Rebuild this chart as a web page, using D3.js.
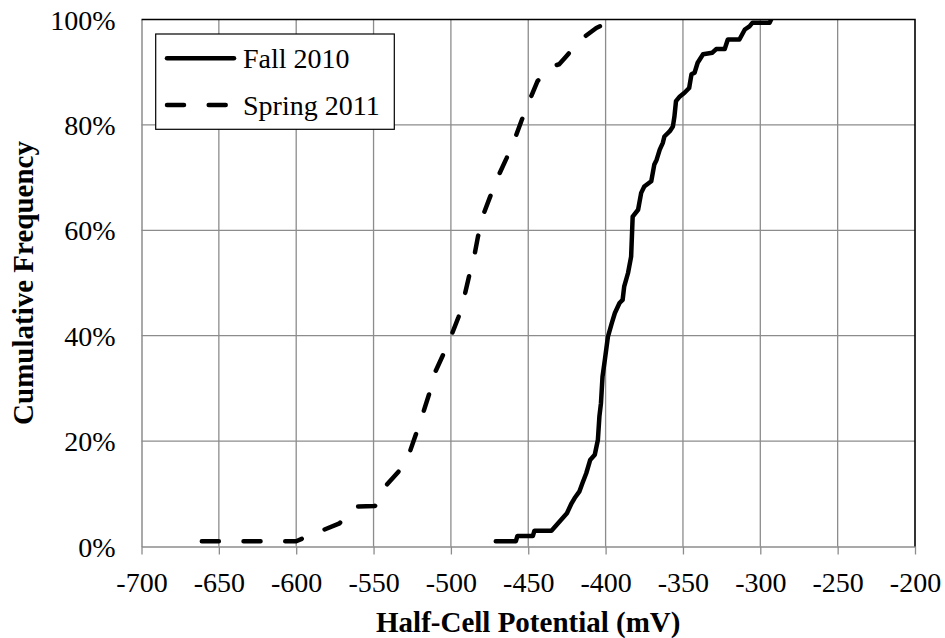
<!DOCTYPE html>
<html>
<head>
<meta charset="utf-8">
<script src="https://cdn.jsdelivr.net/npm/d3@7"></script>
<style>
  html, body { margin: 0; padding: 0; background: #fff; }
  svg { display: block; }
  svg text { font-family: "Liberation Serif", "Times New Roman", serif; fill: #000; }
</style>
</head>
<body>
<svg id="chart" width="945" height="638"></svg>
<script>
// Half-cell potential survey, cumulative distributions
const xTicks = [-700, -650, -600, -550, -500, -450, -400, -350, -300, -250, -200];
const yTicks = [0, 0.2, 0.4, 0.6, 0.8, 1.0];

// Fall 2010: potential (mV) and cumulative frequency (%)
const fallMV = [-471, -458, -457, -447, -446, -435, -432, -429, -425, -422, -420, -417, -415, -412.5, -410, -407,
  -405, -404, -403, -402, -400.5, -398.5, -396, -394, -391, -389, -388, -385.5, -383.5, -382.5, -379, -377,
  -375, -370.5, -368.5, -367, -365, -363, -362, -358.5, -356.5, -355.5, -354.5, -352, -349, -346, -344.5,
  -342.5, -340.5, -337, -331, -328.5, -323, -321, -313.5, -310, -307, -305, -294, -293];
const fallPct = [1, 1, 2, 2, 3, 3, 4, 5, 6.3, 8.2, 9.2, 10.4, 12, 13.9, 16.4, 17.4,
  20.2, 24.7, 27.2, 32.2, 35.4, 39.8, 42.4, 44.3, 46.2, 46.8, 49.3, 51.9, 55, 62.6, 63.9, 67.1,
  68.3, 69.3, 72.5, 73.4, 75.3, 76.6, 77.8, 78.8, 79.7, 81.6, 84.5, 85.4, 86.1, 87, 89.6,
  89.9, 91.8, 93.4, 93.7, 94.4, 94.4, 96.2, 96.2, 98.1, 98.7, 99.4, 99.4, 100];

// Spring 2011: potential (mV) and cumulative frequency (%)
const springMV = [-661, -600, -596, -572, -561, -549, -541.5, -533, -526.5, -522, -518, -514, -510, -505,
  -499.5, -495, -491, -488, -484.5, -482.5, -479, -475, -469.5, -464, -458.5, -454.5, -449, -444, -435,
  -430, -425.5, -416, -406, -394, -389];
const springPct = [1, 1, 1.5, 4.4, 7.6, 7.7, 11.7, 14.5, 18, 21.8, 25.3, 29, 33.2, 36.4,
  40.2, 43.6, 47.8, 51.6, 55.7, 58.8, 63, 66.1, 70.2, 73.7, 77.5, 80.7, 84.8, 88.3, 91.1,
  91.5, 93, 96.2, 98.4, 100, 100];

const seriesNames = ["Fall 2010", "Spring 2011"];

const svg = d3.select("#chart");
const plotL = 141.5, plotR = 915, plotT = 19.5, plotB = 546.5;
const serif = "'Liberation Serif', 'Times New Roman', serif";

const x = d3.scaleLinear().domain([-700, -200]).range([plotL, plotR]);
const y = d3.scaleLinear().domain([0, 1]).range([plotB, plotT]);

const gridColor = "#8c8c8c";

// gridlines
svg.append("g")
  .selectAll("line")
  .data(xTicks.slice(1, -1))
  .join("line")
  .attr("x1", d => x(d)).attr("x2", d => x(d))
  .attr("y1", plotT).attr("y2", plotB)
  .attr("stroke", gridColor).attr("stroke-width", 1.3);

svg.append("g")
  .selectAll("line")
  .data(yTicks.slice(1, -1))
  .join("line")
  .attr("x1", plotL).attr("x2", plotR)
  .attr("y1", d => y(d)).attr("y2", d => y(d))
  .attr("stroke", gridColor).attr("stroke-width", 1.3);

// x axis (plain hyphen-minus labels)
const xAxis = svg.append("g")
  .attr("transform", `translate(0,${plotB})`)
  .call(d3.axisBottom(x).tickValues(xTicks).tickFormat(d => String(d))
    .tickSize(8).tickSizeOuter(0).tickPadding(14));
xAxis.attr("font-family", serif).attr("font-size", 28);
xAxis.select(".domain").attr("stroke", gridColor).attr("stroke-width", 1.5);
xAxis.selectAll(".tick line").attr("stroke", gridColor).attr("stroke-width", 1.3);
xAxis.selectAll(".tick text")
  .attr("fill", "#000")
  .attr("dy", null)
  .attr("y", 45);

// y axis
const yAxis = svg.append("g")
  .attr("transform", `translate(${plotL},0)`)
  .call(d3.axisLeft(y).tickValues(yTicks).tickFormat(d => Math.round(d * 100) + "%")
    .tickSize(0).tickSizeOuter(0).tickPadding(26));
yAxis.attr("font-family", serif).attr("font-size", 28);
yAxis.select(".domain").attr("stroke", gridColor).attr("stroke-width", 1.5);
yAxis.selectAll(".tick text")
  .attr("fill", "#000")
  .attr("dy", "0.34em");

// top and right frame
svg.append("path")
  .attr("d", `M${plotL},${plotT}H${plotR}V${plotB}`)
  .attr("fill", "none").attr("stroke", "#000").attr("stroke-width", 1.6);

// series
svg.append("defs").append("clipPath").attr("id", "plotClip")
  .append("rect").attr("x", plotL).attr("y", plotT).attr("width", plotR - plotL).attr("height", plotB - plotT);

const line = d3.line().x(d => x(d[0])).y(d => y(d[1] / 100));
const fallData = fallMV.map((v, i) => [v, fallPct[i]]);
const springData = springMV.map((v, i) => [v, springPct[i]]);

const plot = svg.append("g").attr("clip-path", "url(#plotClip)");
plot.append("path")
  .datum(fallData)
  .attr("d", line)
  .attr("fill", "none").attr("stroke", "#000").attr("stroke-width", 4.5)
  .attr("stroke-linejoin", "round").attr("stroke-linecap", "round");
plot.append("path")
  .datum(springData)
  .attr("d", line)
  .attr("fill", "none").attr("stroke", "#000").attr("stroke-width", 4.5)
  .attr("stroke-dasharray", "17,24.7")
  .attr("stroke-linejoin", "round").attr("stroke-linecap", "round");

// axis titles
svg.append("text")
  .attr("x", (plotL + plotR) / 2).attr("y", 632)
  .attr("text-anchor", "middle")
  .attr("font-family", serif)
  .attr("font-size", 29).attr("font-weight", "bold")
  .text("Half-Cell Potential (mV)");

svg.append("text")
  .attr("transform", `translate(33,${(plotT + plotB) / 2}) rotate(-90)`)
  .attr("text-anchor", "middle")
  .attr("font-family", serif)
  .attr("font-size", 29).attr("font-weight", "bold")
  .text("Cumulative Frequency");

// legend
const legend = svg.append("g");
legend.append("rect")
  .attr("x", 155.7).attr("y", 34).attr("width", 238.6).attr("height", 95.3)
  .attr("fill", "#fff").attr("stroke", "#000").attr("stroke-width", 1.2);
const legendRows = [
  { name: seriesNames[0], dash: null, y: 58.3 },
  { name: seriesNames[1], dash: "17,24.7", y: 105 }
];
legendRows.forEach(r => {
  legend.append("line")
    .attr("x1", 167).attr("x2", 234).attr("y1", r.y).attr("y2", r.y)
    .attr("stroke", "#000").attr("stroke-width", 4.5)
    .attr("stroke-linecap", "round")
    .attr("stroke-dasharray", r.dash);
  legend.append("text")
    .attr("x", 243).attr("y", r.y + 9.5)
    .attr("font-family", serif)
    .attr("font-size", 28)
    .text(r.name);
});
</script>
</body>
</html>
